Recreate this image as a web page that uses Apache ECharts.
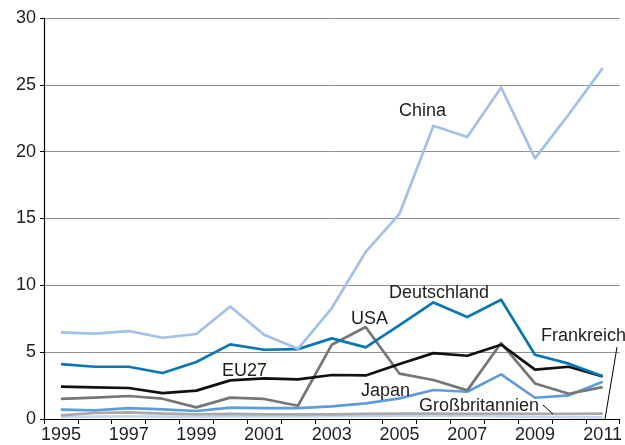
<!DOCTYPE html>
<html>
<head>
<meta charset="utf-8">
<script src="https://cdn.jsdelivr.net/npm/echarts@6/dist/echarts.min.js"></script>
<style>
  html, body { margin: 0; padding: 0; background: #fff; }
  #chart { width: 625px; height: 445px; }
</style>
</head>
<body>
<div id="chart"></div>
<script>
// Years on the category axis
const years = ['1995','1996','1997','1998','1999','2000','2001','2002','2003',
               '2004','2005','2006','2007','2008','2009','2010','2011'];

// Values per country / region
const china       = [6.48, 6.38, 6.58, 6.08, 6.36, 8.42, 6.3, 5.25, 8.3, 12.5, 15.35, 21.94, 21.1, 24.8, 19.5, 22.8, 26.25];
const deutschland = [4.11, 3.91, 3.91, 3.44, 4.26, 5.58, 5.18, 5.23, 6.03, 5.36, 7.03, 8.72, 7.63, 8.92, 4.81, 4.14, 3.19];
const eu27        = [2.42, 2.37, 2.32, 1.94, 2.12, 2.89, 3.04, 2.96, 3.29, 3.26, 4.11, 4.93, 4.73, 5.56, 3.69, 3.91, 3.19];
const usa         = [1.5, 1.6, 1.72, 1.52, 0.87, 1.6, 1.5, 0.99, 5.56, 6.88, 3.39, 2.92, 2.14, 5.68, 2.66, 1.89, 2.39];
const japan       = [0.7, 0.65, 0.82, 0.72, 0.6, 0.85, 0.82, 0.82, 0.94, 1.17, 1.54, 2.17, 2.04, 3.34, 1.59, 1.77, 2.79];
const grossbrit   = [0.27, 0.45, 0.5, 0.4, 0.35, 0.38, 0.35, 0.35, 0.35, 0.38, 0.4, 0.4, 0.38, 0.4, 0.38, 0.38, 0.4];
const frankreich  = [0.15, 0.18, 0.2, 0.18, 0.15, 0.2, 0.2, 0.2, 0.22, 0.22, 0.25, 0.25, 0.25, 0.2, 0.15, 0.13, 0.12];

// Y-axis ticks
const yTicks = [0, 5, 10, 15, 20, 25, 30];

const FONT = '"Liberation Sans", Arial, Helvetica, sans-serif';
const TXT = '#1e1e1e';
const FS = 18;

function line(name, data, color, z) {
  return {
    name, type: 'line', data, z,
    symbol: 'none', smooth: false,
    lineStyle: { color, width: 2.7, join: 'round' },
    emphasis: { disabled: true },
    animation: false
  };
}

// Series name written next to its line
function label(text, x, y) {
  return {
    type: 'text', x, y, z: 20,
    style: { text, fill: TXT, font: FS + 'px ' + FONT, verticalAlign: 'middle', align: 'left' }
  };
}

const chart = echarts.init(document.getElementById('chart'), null, { renderer: 'canvas' });
chart.setOption({
  animation: false,
  grid: { left: 44, right: 3, top: 18, bottom: 26, containLabel: false },
  xAxis: {
    type: 'category', data: years, boundaryGap: true,
    axisLine: { lineStyle: { color: '#000', width: 1.2 } },
    axisTick: { show: true, length: 5, interval: 0, lineStyle: { color: '#000' } },
    axisLabel: { interval: 1, margin: 7, color: TXT, fontSize: FS, fontFamily: FONT, showMaxLabel: true },
    splitLine: { show: false }
  },
  yAxis: {
    type: 'value', min: yTicks[0], max: yTicks[yTicks.length - 1], interval: 5,
    axisLine: { show: true, lineStyle: { color: '#000', width: 1.2 } },
    axisTick: { show: true, length: 4, lineStyle: { color: '#000' } },
    axisLabel: { margin: 8, color: TXT, fontSize: FS, fontFamily: FONT },
    splitLine: { show: true, lineStyle: { color: '#909090', width: 1 } }
  },
  series: [
    line('Frankreich', frankreich, '#c6d6ef', 2),
    line('Großbritannien', grossbrit, '#a9a9a9', 3),
    line('Japan', japan, '#5e9cdb', 4),
    line('USA', usa, '#767676', 5),
    line('EU27', eu27, '#111111', 6),
    line('Deutschland', deutschland, '#0a76b4', 7),
    line('China', china, '#a2c0e8', 8)
  ],
  graphic: [
    label('China', 399, 111),
    label('Deutschland', 389, 293),
    label('USA', 351, 319),
    label('EU27', 222, 371),
    label('Japan', 361, 391),
    label('Großbritannien', 419, 406),
    label('Frankreich', 541, 336),
    { type: 'line', z: 20, shape: { x1: 543, y1: 405, x2: 553, y2: 414 },
      style: { stroke: '#000', lineWidth: 1 } },
    { type: 'line', z: 20, shape: { x1: 617, y1: 347, x2: 605, y2: 419 },
      style: { stroke: '#000', lineWidth: 1 } }
  ]
});
</script>
</body>
</html>
